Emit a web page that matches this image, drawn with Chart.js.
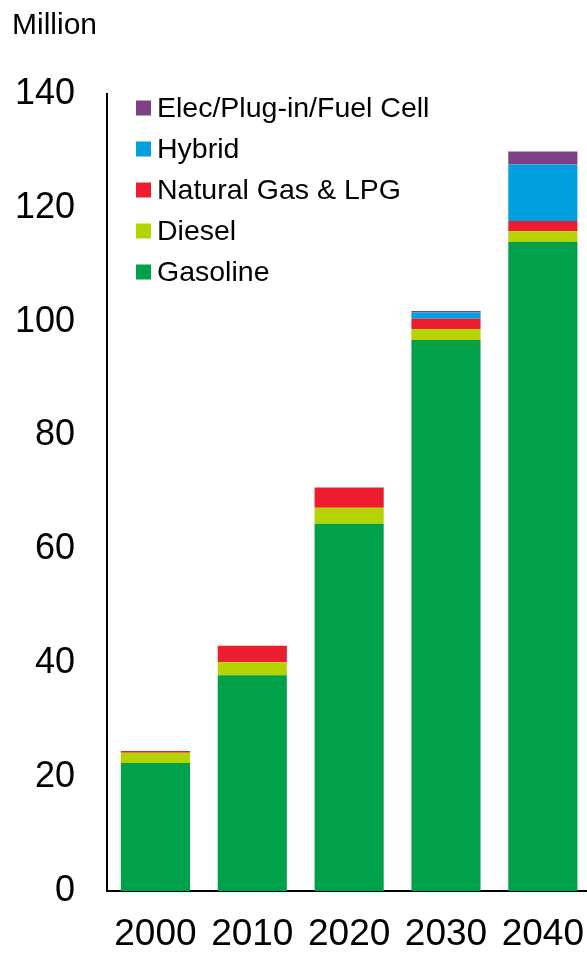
<!DOCTYPE html>
<html>
<head>
<meta charset="utf-8">
<script src="https://cdn.jsdelivr.net/npm/chart.js@4"></script>
<style>
  html, body { margin: 0; padding: 0; background: #fff; overflow: hidden; }
  #wrap { position: absolute; left: 0; top: 0; }
</style>
</head>
<body>
<div id="wrap"><canvas id="myChart" width="606" height="953"></canvas></div>
<script>
// 데이터
const years = ["2000", "2010", "2020", "2030", "2040"];

const gasoline = [22.5, 37.9, 64.5, 96.8, 114.0];
const diesel   = [1.8, 2.3, 2.8, 1.9, 1.9];
const natGas   = [0.3, 2.9, 3.6, 1.8, 1.8];
const hybrid   = [0, 0, 0, 1.1, 9.9];
const elec     = [0, 0, 0, 0.3, 2.3];

const yTicks = [0, 20, 40, 60, 80, 100, 120, 140];

const FONT = "'Liberation Sans', Arial, sans-serif";

// 범례 + 단위 직접 그리기
const legendPlugin = {
  id: "sideLegend",
  afterDraw(chart) {
    const c = chart.ctx;
    c.save();
    c.fillStyle = "#000";
    c.font = "30px " + FONT;
    c.textBaseline = "middle";
    c.textAlign = "left";
    c.fillText("Million", 12, 26);

    const sets = chart.data.datasets.slice().reverse();
    for (let i = 0; i < sets.length; i++) {
      let y = 108 + i * 41;
      c.fillStyle = sets[i].backgroundColor;
      c.fillRect(136, y - 7.5, 15, 15);
      c.fillStyle = "#000";
      c.font = "28.5px " + FONT;
      c.fillText(sets[i].label, 157, y + 1);
    }
    c.restore();
  }
};

const ctx = document.getElementById("myChart");

new Chart(ctx, {
  type: "bar",
  data: {
    labels: years,
    datasets: [
      { label: "Gasoline", data: gasoline, backgroundColor: "#00A14B" },
      { label: "Diesel", data: diesel, backgroundColor: "#B5D300" },
      { label: "Natural Gas & LPG", data: natGas, backgroundColor: "#ED1C2E" },
      { label: "Hybrid", data: hybrid, backgroundColor: "#00A0DE" },
      { label: "Elec/Plug-in/Fuel Cell", data: elec, backgroundColor: "#7B4183" }
    ]
  },
  options: {
    responsive: false,
    animation: false,
    datasets: {
      bar: {
        categoryPercentage: 1,
        barPercentage: 0.714,
        borderWidth: 0
      }
    },
    layout: { autoPadding: false, padding: { top: 94, left: 0, right: 0, bottom: 0 } },
    plugins: {
      legend: { display: false },
      tooltip: { enabled: false }
    },
    scales: {
      x: {
        stacked: true,
        grid: { display: false, drawTicks: false, tickLength: 0 },
        border: { display: true, color: "#000", width: 2 },
        ticks: { color: "#000", font: { family: FONT, size: 37 }, padding: 22, maxRotation: 0, autoSkip: false },
        afterFit: (s) => { s.height = 62; }
      },
      y: {
        stacked: true,
        min: 0,
        max: 140,
        grid: { display: false, drawTicks: false, tickLength: 0 },
        border: { display: true, color: "#000", width: 2 },
        afterBuildTicks: (s) => { s.ticks = yTicks.map(v => ({ value: v })); },
        ticks: { color: "#000", font: { family: FONT, size: 36 }, padding: 32 },
        afterFit: (s) => { s.width = 107; }
      }
    }
  },
  plugins: [legendPlugin]
});
</script>
</body>
</html>
